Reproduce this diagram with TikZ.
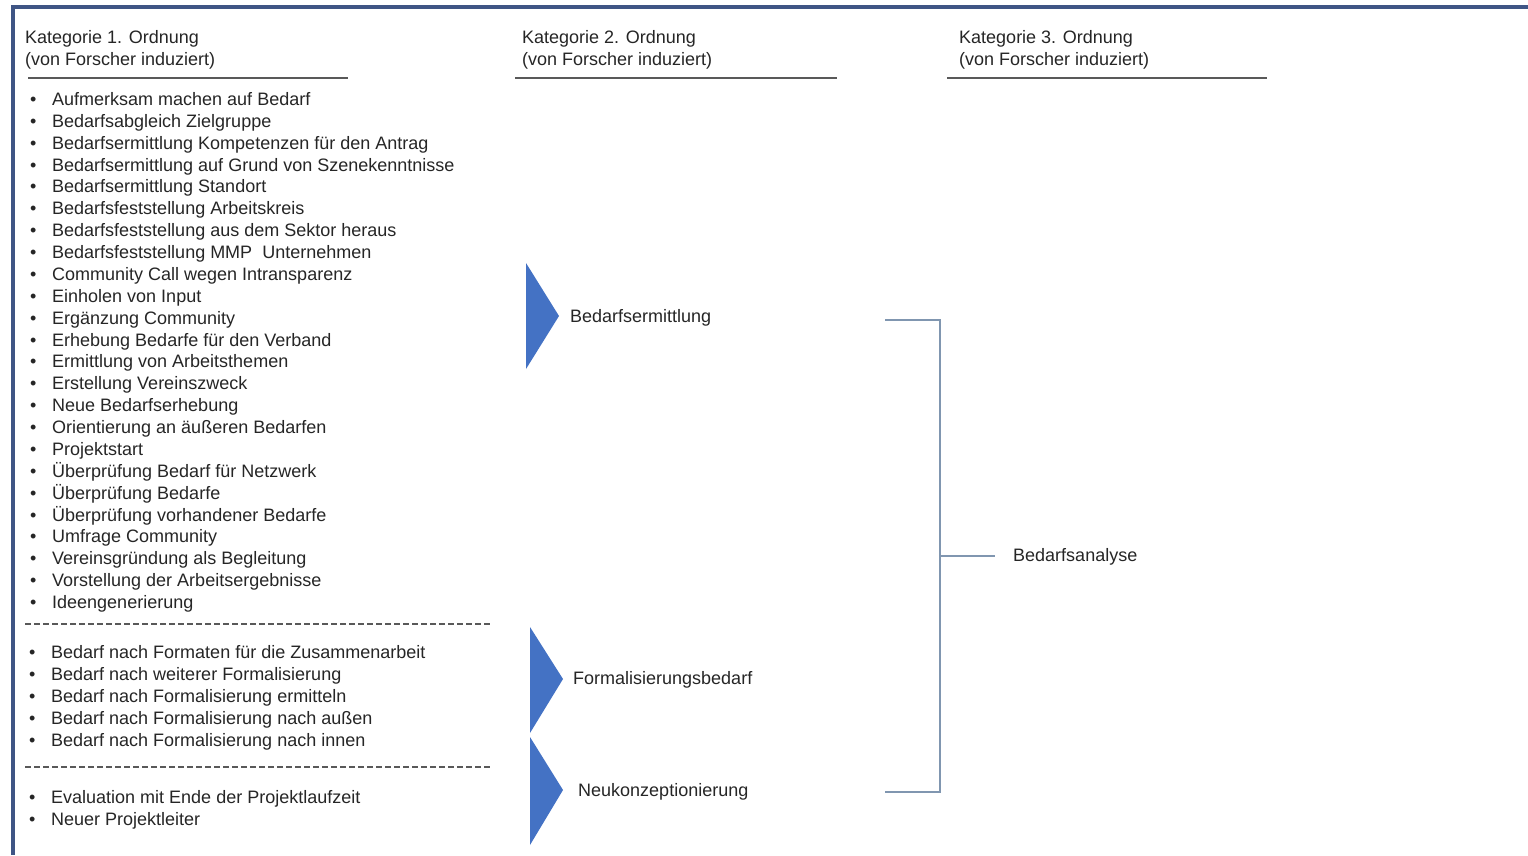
\documentclass[tikz,border=0pt]{standalone}
\usepackage{fontspec}
\setmainfont{Liberation Sans}
\definecolor{framecol}{HTML}{3F5585}
\definecolor{txtcol}{HTML}{262626}
\definecolor{rulecol}{HTML}{595959}
\definecolor{tricol}{HTML}{4472C4}
\definecolor{brkcol}{HTML}{8096B0}
\newcommand\bulletitem[1]{\makebox[22pt][l]{\textbullet}#1}
\begin{document}
\begin{tikzpicture}[x=1pt,y=-1pt,
  label/.style={anchor=base west,inner sep=0pt,text=txtcol,font=\fontsize{18}{21.9}\selectfont},
  headrule/.style={draw=rulecol,line width=2pt},
  sep/.style={draw=rulecol,line width=1.3pt,dash pattern=on 6pt off 3pt},
  chevron/.style={fill=tricol},
  bracket/.style={draw=brkcol,line width=1.5pt}]
\useasboundingbox (0,0) rectangle (1528,855);
\fill[white] (0,0) rectangle (1528,855);

% frame along the top and left edges
\draw[framecol,line width=4pt] (1528,7) -- (13,7) -- (13,855);

% column headings
\node[label] (h1a) at (25,43.5) {Kategorie 1. Ordnung};
\node[label] (h1b) at (25,65.5) {(von Forscher induziert)};
\node[label] (h2a) at (522,43.5) {Kategorie 2. Ordnung};
\node[label] (h2b) at (522,65.5) {(von Forscher induziert)};
\node[label] (h3a) at (959,43.5) {Kategorie 3. Ordnung};
\node[label] (h3b) at (959,65.5) {(von Forscher induziert)};
\draw[headrule] (28,78) -- (348,78);
\draw[headrule] (515,78) -- (837,78);
\draw[headrule] (947,78) -- (1267,78);

% first-order codes, group 1
\foreach \t [count=\i from 0] in {
  Aufmerksam machen auf Bedarf,
  Bedarfsabgleich Zielgruppe,
  Bedarfsermittlung Kompetenzen für den Antrag,
  Bedarfsermittlung auf Grund von Szenekenntnisse,
  Bedarfsermittlung Standort,
  Bedarfsfeststellung Arbeitskreis,
  Bedarfsfeststellung aus dem Sektor heraus,
  Bedarfsfeststellung MMP\ \ Unternehmen,
  Community Call wegen Intransparenz,
  Einholen von Input,
  Ergänzung Community,
  Erhebung Bedarfe für den Verband,
  Ermittlung von Arbeitsthemen,
  Erstellung Vereinszweck,
  Neue Bedarfserhebung,
  Orientierung an äußeren Bedarfen,
  Projektstart,
  Überprüfung Bedarf für Netzwerk,
  Überprüfung Bedarfe,
  Überprüfung vorhandener Bedarfe,
  Umfrage Community,
  Vereinsgründung als Begleitung,
  Vorstellung der Arbeitsergebnisse,
  Ideengenerierung}
  \node[label] (a\i) at (30,{105.5+21.87*\i}) {\bulletitem{\t}};

\draw[sep] (25,624) -- (490,624);

% group 2
\foreach \t [count=\i from 0] in {
  Bedarf nach Formaten für die Zusammenarbeit,
  Bedarf nach weiterer Formalisierung,
  Bedarf nach Formalisierung ermitteln,
  Bedarf nach Formalisierung nach außen,
  Bedarf nach Formalisierung nach innen}
  \node[label] (b\i) at (29,{658.5+22*\i}) {\bulletitem{\t}};

\draw[sep] (25,767) -- (490,767);

% group 3
\foreach \t [count=\i from 0] in {
  Evaluation mit Ende der Projektlaufzeit,
  Neuer Projektleiter}
  \node[label] (c\i) at (29,{803.5+22*\i}) {\bulletitem{\t}};

% second-order categories with chevrons
\fill[chevron] (526,263) -- (559,316) -- (526,369) -- cycle;
\fill[chevron] (530,627) -- (563,679) -- (530,733) -- cycle;
\fill[chevron] (530,737) -- (563,790) -- (530,845) -- cycle;
\node[label] (k1) at (570,322.5) {Bedarfsermittlung};
\node[label] (k2) at (573,684.5) {Formalisierungsbedarf};
\node[label] (k3) at (578,796.5) {Neukonzeptionierung};

% third-order category
\node[label] (ana) at (1013,561.5) {Bedarfsanalyse};

% bracket joining the categories
\coordinate (bt) at (885,320);
\coordinate (bb) at (885,792);
\coordinate (bm) at (940,556);
\path (ana.west) ++(-18,0) coordinate (ae);
\draw[bracket] (bt) -- (940,320) -- (940,792) -- (bb);
\draw[bracket] (bm) -- (bm -| ae);
\end{tikzpicture}
\end{document}
